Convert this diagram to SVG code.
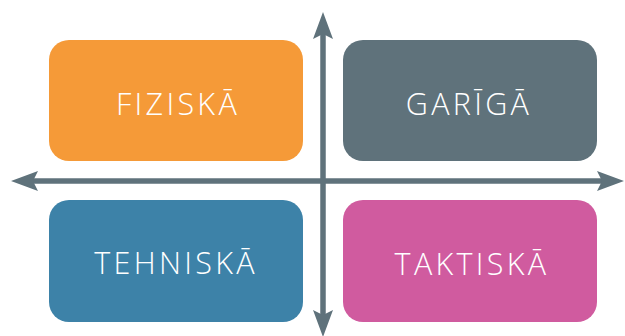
<svg xmlns="http://www.w3.org/2000/svg" width="625" height="336" viewBox="0 0 625 336">
<style>
.box{stroke:none}
.lbl{font-family:"Open Sans","Liberation Sans",sans-serif;font-weight:300;font-size:30.5px;fill:#ffffff;text-anchor:middle;letter-spacing:3.3px}
.axis{stroke:#5F727B;stroke-width:5.5;fill:none}
.head{fill:#5F727B}
</style>
<rect width="625" height="336" fill="#ffffff"/>
<g id="fiziska"><rect class="box" x="49" y="40" width="254" height="121" rx="20" fill="#F59A38"/><text class="lbl" x="178" y="115">FIZISKĀ</text></g>
<g id="gariga"><rect class="box" x="343" y="40" width="254" height="121" rx="20" fill="#5F727B"/><text class="lbl" x="469" y="115">GARĪGĀ</text></g>
<g id="tehniska"><rect class="box" x="49" y="200" width="254" height="122" rx="20" fill="#3D82A8"/><text class="lbl" x="176" y="274">TEHNISKĀ</text></g>
<g id="taktiska"><rect class="box" x="343" y="200" width="254" height="122" rx="20" fill="#D05B9F"/><text class="lbl" x="472" y="275">TAKTISKĀ</text></g>
<g id="connectors">
<line class="axis" x1="30" y1="181" x2="606" y2="181"/>
<line class="axis" x1="323" y1="30" x2="323" y2="318"/>
<polygon class="head" points="11,181 38,171 33,181 38,191"/>
<polygon class="head" points="624,181 597,171 602,181 597,191"/>
<polygon class="head" points="323,12 313,39 323,34 333,39"/>
<polygon class="head" points="323,337 313,310 323,315 333,310"/>
</g>
</svg>
